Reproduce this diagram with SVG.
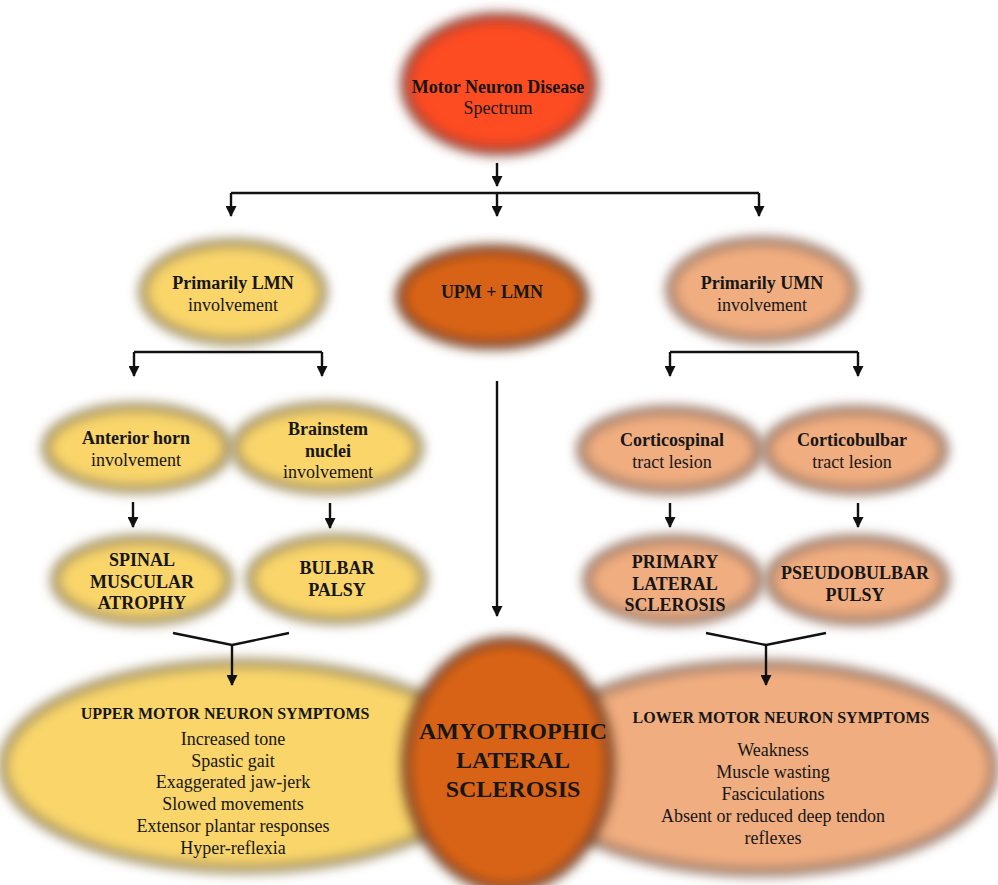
<svg xmlns="http://www.w3.org/2000/svg" width="998" height="885" viewBox="0 0 998 885">
<style>
.red{fill:#FD4B20;stroke:#8a4030;stroke-width:9}
.dk{fill:#D86315;stroke:#6e3d22;stroke-width:9}
.yel{fill:#F9D56A;stroke:#9a8a5e;stroke-width:9}
.sal{fill:#F0AD80;stroke:#937262;stroke-width:9}
.b{font-family:"Liberation Serif","Times New Roman",serif;font-weight:bold;fill:#161616;text-anchor:middle}
.r{font-family:"Liberation Serif","Times New Roman",serif;fill:#161616;text-anchor:middle}
.s18{font-size:18px}.s16{font-size:16px}.s24{font-size:24px}
.ln{stroke:#111;stroke-width:2.4;fill:none}
</style>
<defs>
<filter id="soft" x="-20%" y="-25%" width="140%" height="150%"><feGaussianBlur stdDeviation="6"/></filter>
<marker id="ah" markerUnits="userSpaceOnUse" markerWidth="11" markerHeight="11" refX="10" refY="5.5" orient="auto"><path d="M0,0 L11,5.5 L0,11 z" fill="#111"/></marker>
</defs>
<rect width="998" height="885" fill="#fff"/>

<g id="umn-symptoms">
<ellipse class="yel" cx="245" cy="766" rx="242" ry="103" filter="url(#soft)"/>
<text class="b s16" x="225" y="719">UPPER MOTOR NEURON SYMPTOMS</text>
<text class="r s18" x="233" y="745">Increased tone</text>
<text class="r s18" x="233" y="767">Spastic gait</text>
<text class="r s18" x="233" y="788">Exaggerated jaw-jerk</text>
<text class="r s18" x="233" y="810">Slowed movements</text>
<text class="r s18" x="233" y="832">Extensor plantar responses</text>
<text class="r s18" x="233" y="854">Hyper-reflexia</text>
</g>
<g id="lmn-symptoms">
<ellipse class="sal" cx="760" cy="768" rx="234" ry="104" filter="url(#soft)"/>
<text class="b s16" x="781" y="723">LOWER MOTOR NEURON SYMPTOMS</text>
<text class="r s18" x="773" y="756">Weakness</text>
<text class="r s18" x="773" y="778">Muscle wasting</text>
<text class="r s18" x="773" y="800">Fasciculations</text>
<text class="r s18" x="773" y="822">Absent or reduced deep tendon</text>
<text class="r s18" x="773" y="844">reflexes</text>
</g>
<g id="als">
<ellipse class="dk" cx="508" cy="765" rx="102" ry="124" filter="url(#soft)"/>
<text class="b s24" x="513" y="739">AMYOTROPHIC</text>
<text class="b s24" x="513" y="768">LATERAL</text>
<text class="b s24" x="513" y="797">SCLEROSIS</text>
</g>

<g id="mnd">
<ellipse class="red" cx="499" cy="84" rx="94" ry="67" filter="url(#soft)"/>
<text class="b s18" x="498" y="93">Motor Neuron Disease</text>
<text class="r s18" x="498" y="114">Spectrum</text>
</g>
<g id="primarily-lmn">
<ellipse class="yel" cx="233" cy="292" rx="90" ry="49" filter="url(#soft)"/>
<text class="b s18" x="233" y="289">Primarily LMN</text>
<text class="r s18" x="233" y="311">involvement</text>
</g>
<g id="upm-lmn">
<ellipse class="dk" cx="492" cy="297" rx="92" ry="48" filter="url(#soft)"/>
<text class="b s18" x="492" y="298">UPM + LMN</text>
</g>
<g id="primarily-umn">
<ellipse class="sal" cx="762" cy="290" rx="92" ry="49" filter="url(#soft)"/>
<text class="b s18" x="762" y="289">Primarily UMN</text>
<text class="r s18" x="762" y="311">involvement</text>
</g>
<g id="anterior-horn">
<ellipse class="yel" cx="137" cy="448" rx="91" ry="41" filter="url(#soft)"/>
<text class="b s18" x="136" y="444">Anterior horn</text>
<text class="r s18" x="136" y="466">involvement</text>
</g>
<g id="brainstem">
<ellipse class="yel" cx="327" cy="448" rx="92" ry="42" filter="url(#soft)"/>
<text class="b s18" x="328" y="435">Brainstem</text>
<text class="b s18" x="328" y="457">nuclei</text>
<text class="r s18" x="328" y="478">involvement</text>
</g>
<g id="corticospinal">
<ellipse class="sal" cx="670" cy="450" rx="89" ry="40" filter="url(#soft)"/>
<text class="b s18" x="672" y="446">Corticospinal</text>
<text class="r s18" x="672" y="468">tract lesion</text>
</g>
<g id="corticobulbar">
<ellipse class="sal" cx="855" cy="450" rx="89" ry="40" filter="url(#soft)"/>
<text class="b s18" x="852" y="446">Corticobulbar</text>
<text class="r s18" x="852" y="468">tract lesion</text>
</g>
<g id="sma">
<ellipse class="yel" cx="142" cy="580" rx="87" ry="41" filter="url(#soft)"/>
<text class="b s18" x="142" y="566">SPINAL</text>
<text class="b s18" x="142" y="588">MUSCULAR</text>
<text class="b s18" x="142" y="609">ATROPHY</text>
</g>
<g id="bulbar">
<ellipse class="yel" cx="337" cy="579" rx="87" ry="41" filter="url(#soft)"/>
<text class="b s18" x="337" y="574">BULBAR</text>
<text class="b s18" x="337" y="596">PALSY</text>
</g>
<g id="pls">
<ellipse class="sal" cx="673" cy="580" rx="86" ry="41" filter="url(#soft)"/>
<text class="b s18" x="675" y="568">PRIMARY</text>
<text class="b s18" x="675" y="590">LATERAL</text>
<text class="b s18" x="675" y="611">SCLEROSIS</text>
</g>
<g id="pseudobulbar">
<ellipse class="sal" cx="857" cy="580" rx="88" ry="41" filter="url(#soft)"/>
<text class="b s18" x="855" y="579">PSEUDOBULBAR</text>
<text class="b s18" x="855" y="601">PULSY</text>
</g>

<g id="connectors" class="ln">
<path d="M497,163 V186" marker-end="url(#ah)"/>
<path d="M231,193 H759"/>
<path d="M231,193 V216" marker-end="url(#ah)"/>
<path d="M497,193 V216" marker-end="url(#ah)"/>
<path d="M759,193 V216" marker-end="url(#ah)"/>
<path d="M134,352 H322"/>
<path d="M134,352 V376" marker-end="url(#ah)"/>
<path d="M322,352 V376" marker-end="url(#ah)"/>
<path d="M670,352 H858"/>
<path d="M670,352 V376" marker-end="url(#ah)"/>
<path d="M858,352 V376" marker-end="url(#ah)"/>
<path d="M497,381 V616" marker-end="url(#ah)"/>
<path d="M133,502 V527" marker-end="url(#ah)"/>
<path d="M330,503 V528" marker-end="url(#ah)"/>
<path d="M670,503 V527" marker-end="url(#ah)"/>
<path d="M858,503 V527" marker-end="url(#ah)"/>
<path d="M173,633 L232,645 L289,633"/>
<path d="M232,645 V685" marker-end="url(#ah)"/>
<path d="M706,633 L766,645 L826,633"/>
<path d="M766,645 V685" marker-end="url(#ah)"/>
</g>
</svg>
